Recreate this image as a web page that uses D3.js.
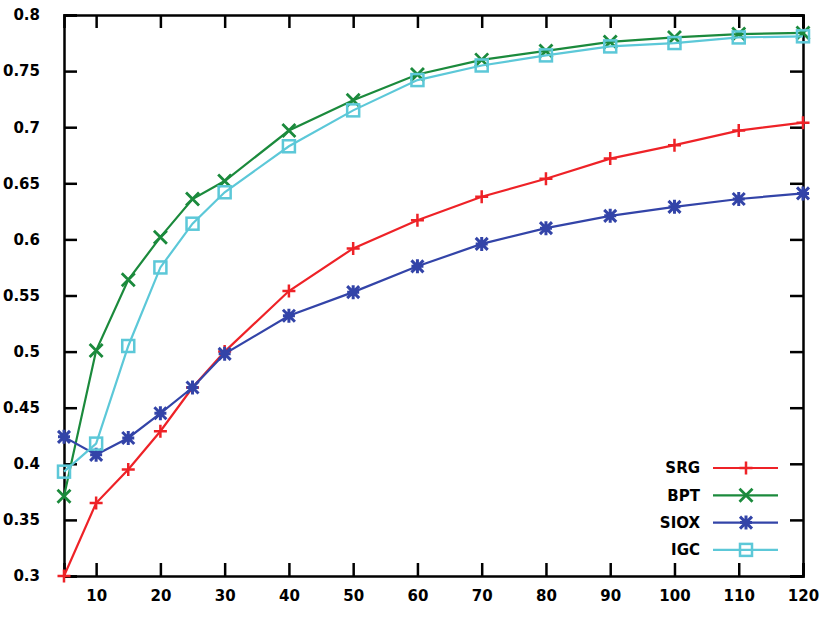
<!DOCTYPE html>
<html><head><meta charset="utf-8">
<script src="https://cdn.jsdelivr.net/npm/d3@7"></script>
<style>body{margin:0;background:#fff}svg{display:block}</style>
</head><body>
<script>
const xValues = [5,10,15,20,25,30,40,50,60,70,80,90,100,110,120];
const srg  = [0.300,0.365,0.395,0.429,0.468,0.500,0.554,0.592,0.617,0.638,0.654,0.672,0.684,0.697,0.704];
const bpt  = [0.371,0.501,0.564,0.602,0.636,0.652,0.697,0.724,0.747,0.760,0.768,0.776,0.780,0.783,0.784];
const siox = [0.424,0.408,0.423,0.445,0.468,0.498,0.532,0.553,0.576,0.596,0.610,0.621,0.629,0.636,0.641];
const igc  = [0.393,0.418,0.505,0.575,0.614,0.642,0.683,0.715,0.742,0.755,0.764,0.772,0.775,0.780,0.781];
const seriesNames = ["SRG","BPT","SIOX","IGC"];
const xTicks = [10,20,30,40,50,60,70,80,90,100,110,120];
const yTicks = [0.3,0.35,0.4,0.45,0.5,0.55,0.6,0.65,0.7,0.75,0.8];

const W = 822, H = 618;
const L = 64, R = 803, T = 15, B = 576;
const svg = d3.select("body").append("svg").attr("width", W).attr("height", H);
const x = d3.scaleLinear().domain([5,120]).range([L,R]);
const y = d3.scaleLinear().domain([0.3,0.8]).range([B,T]);

const series = [
  {name:"SRG", vals:srg, color:"#ee2227", marker:"plus"},
  {name:"BPT", vals:bpt, color:"#1b8a3c", marker:"cross"},
  {name:"SIOX", vals:siox, color:"#3344a8", marker:"star"},
  {name:"IGC", vals:igc, color:"#5cc8d8", marker:"square"}
];

const font = "'DejaVu Sans', sans-serif";
const tickLen = 13;
// axes
const gx = svg.append("g").attr("transform",`translate(0,${B})`)
  .call(d3.axisBottom(x).tickValues(xTicks).tickSize(-tickLen).tickPadding(tickLen+10).tickFormat(d3.format("d")));
const gxt = svg.append("g").attr("transform",`translate(0,${T})`)
  .call(d3.axisTop(x).tickValues(xTicks).tickSize(-tickLen).tickFormat(""));
const gy = svg.append("g").attr("transform",`translate(${L},0)`)
  .call(d3.axisLeft(y).tickValues(yTicks).tickSize(-tickLen).tickPadding(tickLen+11).tickFormat(d => d3.format("")(+d.toFixed(2))));
const gyr = svg.append("g").attr("transform",`translate(${R},0)`)
  .call(d3.axisRight(y).tickValues(yTicks).tickSize(-tickLen).tickFormat(""));
[gx,gxt,gy,gyr].forEach(g => {
  g.select(".domain").attr("stroke","#000").attr("stroke-width",2.5);
  g.selectAll(".tick line").attr("stroke","#000").attr("stroke-width",2.5);
  g.selectAll(".tick text").attr("font-family",font).attr("font-weight","bold").attr("font-size",15).attr("fill","#000");
});
gx.selectAll(".tick text").attr("dy","0.1em");

function drawMarker(g, type, cx, cy, color) {
  const s = 6.5;
  if (type==="plus") {
    g.append("path").attr("d",`M${cx-s},${cy}H${cx+s}M${cx},${cy-s}V${cy+s}`).attr("stroke",color).attr("stroke-width",2.5).attr("fill","none");
  } else if (type==="cross") {
    g.append("path").attr("d",`M${cx-s},${cy-s}L${cx+s},${cy+s}M${cx-s},${cy+s}L${cx+s},${cy-s}`).attr("stroke",color).attr("stroke-width",2.8).attr("fill","none");
  } else if (type==="star") {
    const t = 6;
    g.append("path").attr("d",`M${cx-t},${cy-t}L${cx+t},${cy+t}M${cx-t},${cy+t}L${cx+t},${cy-t}M${cx},${cy-t-1}V${cy+t+1}M${cx-t},${cy}H${cx+t}`).attr("stroke",color).attr("stroke-width",3).attr("fill","none");
  } else {
    g.append("rect").attr("x",cx-6).attr("y",cy-6).attr("width",12).attr("height",12).attr("stroke",color).attr("stroke-width",2.5).attr("fill","none");
  }
}

const line = d3.line().x(d=>x(d[0])).y(d=>y(d[1]));
const plot = svg.append("g");
series.forEach(s => {
  const pts = xValues.map((xv,i)=>[xv,s.vals[i]]);
  plot.append("path").datum(pts).attr("d",line).attr("fill","none").attr("stroke",s.color).attr("stroke-width",2.2);
  const mg = plot.append("g");
  pts.forEach(p => drawMarker(mg, s.marker, x(p[0]), y(p[1]), s.color));
});

// legend
const leg = svg.append("g");
series.forEach((s,i) => {
  const ly = 468 + i*27.3;
  leg.append("text").attr("x",700).attr("y",ly).attr("dy","0.35em").attr("text-anchor","end")
    .attr("font-family",font).attr("font-weight","bold").attr("font-size",15).attr("fill","#000").text(s.name);
  leg.append("line").attr("x1",713).attr("x2",778).attr("y1",ly).attr("y2",ly).attr("stroke",s.color).attr("stroke-width",2.2);
  drawMarker(leg, s.marker, 746, ly, s.color);
});
</script>
</body></html>
